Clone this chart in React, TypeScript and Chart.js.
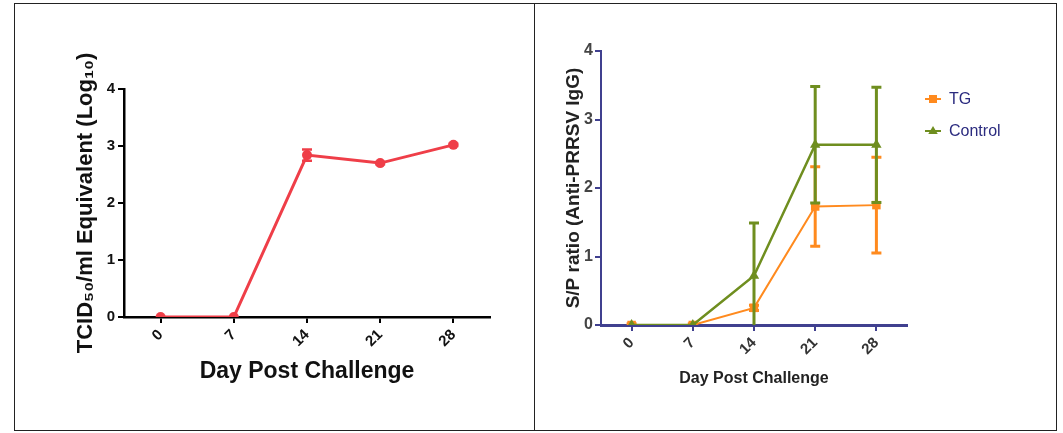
import React, { useEffect, useRef } from "react";
import { Chart, registerables } from "chart.js";

Chart.register(...registerables);

// ---------- data ----------
const days = ["0", "7", "14", "21", "28"];
const yTickValues = [0, 1, 2, 3, 4];

const viralLoad = [0, 0, 2.84, 2.7, 3.02];
const viralLoadErr = [0, 0, 0.1, 0.02, 0.02];

const seriesNames = ["TG", "Control"];
const tgValues = [0, 0, 0.25, 1.73, 1.75];
const tgErr = [0.02, 0.02, 0.04, 0.58, 0.7];
const controlValues = [0, 0, 0.72, 2.63, 2.63];
const controlErr = [0, 0, 0.77, 0.85, 0.84];

const leftYTitle = "TCID\u2085\u2080/ml Equivalent (Log\u2081\u2080)";
const rightYTitle = "S/P ratio (Anti-PRRSV IgG)";
const xTitle = "Day Post Challenge";

// ---------- styles ----------
const RED = "#EF3E48";
const ORANGE = "#FF8A1E";
const GREEN = "#6F8E1F";
const NAVY = "#40408F";
const ARIAL = "'Liberation Sans', Arial, Helvetica, sans-serif";
const NARROW = "'Liberation Sans Narrow', 'Arial Narrow', 'Liberation Sans', Arial, sans-serif";

const errorBarPlugin = {
  id: "errorBars",
  afterDatasetDraw(chart: any, args: any) {
    const ds: any = chart.data.datasets[args.index];
    const errs: number[] | undefined = ds.errorBars;
    if (!errs) return;
    const { ctx, chartArea, scales } = chart;
    const xs = scales.x;
    const ys = scales.y;
    ctx.save();
    ctx.beginPath();
    ctx.rect(chartArea.left - 20, chartArea.top - 10, chartArea.width + 40, chartArea.height + 10);
    ctx.clip();
    ctx.strokeStyle = ds.borderColor;
    ctx.lineWidth = ds.errorBarWidth || 2;
    const cap = ds.errorBarCap || 5;
    ds.data.forEach((v: number, i: number) => {
      const e = errs[i];
      if (!e) return;
      const x = xs.getPixelForValue(i);
      const yHi = ys.getPixelForValue(v + e);
      const yLo = ys.getPixelForValue(v - e);
      ctx.beginPath();
      ctx.moveTo(x, yHi);
      ctx.lineTo(x, yLo);
      ctx.moveTo(x - cap, yHi);
      ctx.lineTo(x + cap, yHi);
      ctx.moveTo(x - cap, yLo);
      ctx.lineTo(x + cap, yLo);
      ctx.stroke();
    });
    ctx.restore();
  },
};

const sideLegendPlugin = {
  id: "sideLegend",
  afterDraw(chart: any, _args: any, opts: any) {
    if (!opts || !opts.display) return;
    const { ctx } = chart;
    chart.data.datasets.forEach((ds: any, i: number) => {
      const x = opts.x;
      const y = opts.y + i * opts.spacing;
      ctx.save();
      ctx.strokeStyle = ds.borderColor;
      ctx.fillStyle = ds.backgroundColor;
      ctx.lineWidth = 2;
      ctx.beginPath();
      ctx.moveTo(x - 8, y);
      ctx.lineTo(x + 8, y);
      ctx.stroke();
      ctx.beginPath();
      if (ds.pointStyle === "triangle") {
        const r = 5;
        ctx.moveTo(x, y - r);
        ctx.lineTo(x + r * 0.95, y + r * 0.6);
        ctx.lineTo(x - r * 0.95, y + r * 0.6);
        ctx.closePath();
      } else {
        ctx.rect(x - 4, y - 4, 8, 8);
      }
      ctx.fill();
      ctx.fillStyle = opts.color;
      ctx.font = opts.font;
      ctx.textBaseline = "middle";
      ctx.textAlign = "left";
      ctx.fillText(ds.label, x + 16, y + 1);
      ctx.restore();
    });
  },
};

function useChart(ref: React.RefObject<HTMLCanvasElement>, makeConfig: () => any) {
  useEffect(() => {
    if (!ref.current) return;
    const chart = new Chart(ref.current, makeConfig());
    return () => chart.destroy();
  }, []);
}

function leftConfig() {
  return {
    type: "line",
    data: {
      labels: days,
      datasets: [
        {
          label: "Viral load",
          data: viralLoad,
          errorBars: viralLoadErr,
          errorBarWidth: 2.5,
          errorBarCap: 5,
          borderColor: RED,
          backgroundColor: RED,
          borderWidth: 3,
          pointRadius: 5,
          pointBorderWidth: 0,
          pointStyle: "circle",
          tension: 0,
        },
      ],
    },
    plugins: [errorBarPlugin],
    options: {
      animation: false,
      responsive: false,
      maintainAspectRatio: false,
      layout: { padding: { left: 68, right: 44, top: 89, bottom: 48 } },
      plugins: { legend: { display: false }, tooltip: { enabled: false } },
      scales: {
        x: {
          type: "category",
          offset: true,
          afterFit: (s: any) => { s.height = 68; },
          grid: { drawOnChartArea: false, drawTicks: true, tickLength: 6, color: "#000", lineWidth: 2, offset: false },
          border: { color: "#000", width: 2.5 },
          ticks: {
            minRotation: 45,
            maxRotation: 45,
            padding: 3,
            color: "#111",
            font: { family: ARIAL, size: 15, weight: "bold" },
          },
          title: {
            display: true,
            text: xTitle,
            color: "#111",
            padding: { top: 0, bottom: 0 },
            font: { family: ARIAL, size: 23, weight: "bold" },
          },
        },
        y: {
          min: 0,
          max: 4,
          afterFit: (s: any) => { s.width = 56; },
          afterBuildTicks: (s: any) => { s.ticks = yTickValues.map((v) => ({ value: v })); },
          grid: { drawOnChartArea: false, drawTicks: true, tickLength: 6, color: "#000", lineWidth: 2 },
          border: { color: "#000", width: 2.5 },
          ticks: {
            padding: 3,
            color: "#111",
            font: { family: ARIAL, size: 15, weight: "bold" },
          },
          title: {
            display: true,
            text: leftYTitle,
            color: "#111",
            padding: { top: 5, bottom: 0 },
            font: { family: ARIAL, size: 22, weight: "bold" },
          },
        },
      },
    },
  };
}

function rightConfig() {
  return {
    type: "line",
    data: {
      labels: days,
      datasets: [
        {
          label: seriesNames[0],
          data: tgValues,
          errorBars: tgErr,
          errorBarWidth: 3,
          errorBarCap: 5,
          borderColor: ORANGE,
          backgroundColor: ORANGE,
          borderWidth: 2,
          pointRadius: 6,
          pointBorderWidth: 0,
          pointStyle: "rect",
          tension: 0,
          order: 2,
        },
        {
          label: seriesNames[1],
          data: controlValues,
          errorBars: controlErr,
          errorBarWidth: 3,
          errorBarCap: 5,
          borderColor: GREEN,
          backgroundColor: GREEN,
          borderWidth: 2.5,
          pointRadius: 6,
          pointBorderWidth: 0,
          pointStyle: "triangle",
          tension: 0,
          order: 1,
        },
      ],
    },
    plugins: [errorBarPlugin, sideLegendPlugin],
    options: {
      animation: false,
      responsive: false,
      maintainAspectRatio: false,
      layout: { padding: { left: 27, right: 156, top: 51, bottom: 45 } },
      plugins: {
        legend: { display: false },
        tooltip: { enabled: false },
        sideLegend: {
          display: true,
          x: 398,
          y: 99,
          spacing: 32,
          color: "#2B2B7F",
          font: "16px " + NARROW,
        },
      },
      scales: {
        x: {
          type: "category",
          offset: true,
          afterFit: (s: any) => { s.height = 63; },
          grid: { drawOnChartArea: false, drawTicks: true, tickLength: 6, color: NAVY, lineWidth: 2, offset: false },
          border: { color: NAVY, width: 3 },
          ticks: {
            minRotation: 45,
            maxRotation: 45,
            padding: 3,
            color: "#333",
            font: { family: NARROW, size: 15, weight: "bold" },
          },
          title: {
            display: true,
            text: xTitle,
            color: "#222",
            padding: { top: 0, bottom: 0 },
            font: { family: NARROW, size: 16, weight: "bold" },
          },
        },
        y: {
          min: 0,
          max: 4,
          afterFit: (s: any) => { s.width = 39; },
          afterBuildTicks: (s: any) => { s.ticks = yTickValues.map((v) => ({ value: v })); },
          grid: { drawOnChartArea: false, drawTicks: true, tickLength: 6, color: NAVY, lineWidth: 2 },
          border: { color: NAVY, width: 2 },
          ticks: {
            padding: 2,
            color: "#444",
            font: { family: NARROW, size: 16, weight: "bold" },
          },
          title: {
            display: true,
            text: rightYTitle,
            color: "#222",
            padding: { top: 0, bottom: 0 },
            font: { family: ARIAL, size: 19, weight: "bold" },
          },
        },
      },
    },
  };
}

export default function App() {
  const leftRef = useRef<HTMLCanvasElement>(null);
  const rightRef = useRef<HTMLCanvasElement>(null);
  useChart(leftRef, leftConfig);
  useChart(rightRef, rightConfig);

  return (
    <div style={{ position: "absolute", left: 0, top: 0, width: 1063, height: 433, background: "#fff", overflow: "hidden" }}>
      <canvas ref={leftRef} width={534} height={433} style={{ position: "absolute", left: 0, top: 0, width: 534, height: 433 }} />
      <canvas ref={rightRef} width={528} height={433} style={{ position: "absolute", left: 535, top: 0, width: 528, height: 433 }} />
      <div style={{ position: "absolute", left: 14, top: 3, width: 1043, height: 428, border: "1px solid #222", boxSizing: "border-box", pointerEvents: "none" }} />
      <div style={{ position: "absolute", left: 534, top: 3, width: 1, height: 428, background: "#222", pointerEvents: "none" }} />
    </div>
  );
}
